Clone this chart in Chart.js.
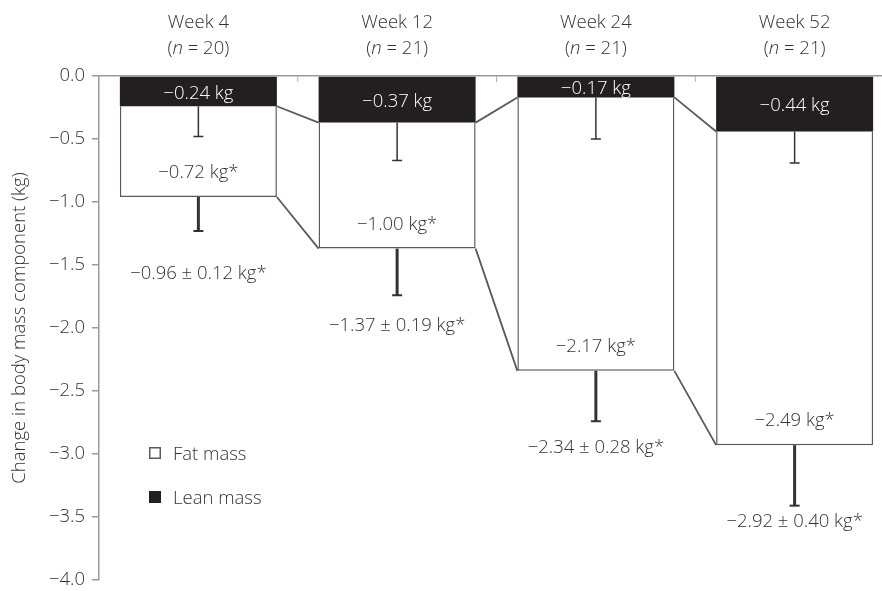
<!DOCTYPE html>
<html>
<head>
<meta charset="utf-8">
<title>Change in body mass components</title>
<script src="https://cdn.jsdelivr.net/npm/chart.js@4.4.1/dist/chart.umd.min.js"></script>
<style>
  html, body { margin: 0; padding: 0; background: #fff; overflow: hidden; }
  #wrap { position: relative; width: 894px; height: 591px; }
</style>
</head>
<body>
<div id="wrap"><canvas id="chart"></canvas></div>
<script>
// Visits and group sizes
const weeks = ['Week 4', 'Week 12', 'Week 24', 'Week 52'];
const sampleSizes = [20, 21, 21, 21];

// Mean change per component (kg)
const leanMass = [-0.24, -0.37, -0.17, -0.44];
const fatMass = [-0.72, -1.00, -2.17, -2.49];

// Total change (kg) with its standard error
const totalMass = [-0.96, -1.37, -2.34, -2.92];
const totalSE = [0.12, 0.19, 0.28, 0.40];

// Error-bar lengths (kg), drawn downward from each bar end
const leanErr = [0.24, 0.30, 0.33, 0.25];
const totalErr = [0.27, 0.37, 0.40, 0.49];

// Value axis
const yMin = -4.0;
const yMax = 0.0;
const yStep = 0.5;

const FONT = '"Open Sans", "Noto Sans", sans-serif';
const FONT_SIZE = 18.5;
const TEXT_DY = 2;          // nudge so glyphs sit visually centred on their anchor
const INK = '#333333';
const LEAN_FILL = '#231f20';
const EDGE = '#5a5a5a';
const AXIS = '#9a9a9a';

const fmt2 = v => (v < 0 ? '\u2212' : '') + Math.abs(v).toFixed(2);
const fmt1 = v => (Math.abs(v) < 1e-9 ? '0.0' : (v < 0 ? '\u2212' : '') + Math.abs(v).toFixed(1));

function font(style) {
  return (style || '') + ' 300 ' + FONT_SIZE + 'px ' + FONT;
}

// Connectors between neighbouring bars, error bars, value labels,
// two-line visit headers and the inset legend.
const decorations = {
  id: 'decorations',
  beforeDatasetsDraw(chart) {
    const { ctx } = chart;
    const lean = chart.getDatasetMeta(0).data;
    const fat = chart.getDatasetMeta(1).data;
    ctx.save();
    ctx.strokeStyle = EDGE;
    ctx.lineWidth = 1.8;
    for (let i = 0; i < lean.length - 1; i++) {
      const a = lean[i], b = lean[i + 1];
      const fa = fat[i], fb = fat[i + 1];
      ctx.beginPath();
      ctx.moveTo(a.x + a.width / 2, a.y);
      ctx.lineTo(b.x - b.width / 2, b.y);
      ctx.moveTo(fa.x + fa.width / 2, fa.y);
      ctx.lineTo(fb.x - fb.width / 2, fb.y);
      ctx.stroke();
    }
    ctx.restore();
  },
  afterDatasetsDraw(chart) {
    const { ctx, scales: { y } } = chart;
    const lean = chart.getDatasetMeta(0).data;
    const fat = chart.getDatasetMeta(1).data;
    ctx.save();
    ctx.strokeStyle = INK;
    ctx.lineCap = 'butt';
    lean.forEach((el, i) => {
      // lean-mass error bar (thin)
      const yl = y.getPixelForValue(leanMass[i] - leanErr[i]);
      ctx.lineWidth = 1.5;
      ctx.beginPath();
      ctx.moveTo(el.x, el.y);
      ctx.lineTo(el.x, yl);
      ctx.moveTo(el.x - 5, yl);
      ctx.lineTo(el.x + 5, yl);
      ctx.stroke();
      // total error bar (heavy)
      const f = fat[i];
      const yt = y.getPixelForValue(totalMass[i] - totalErr[i]);
      ctx.lineWidth = 3;
      ctx.beginPath();
      ctx.moveTo(f.x, f.y);
      ctx.lineTo(f.x, yt);
      ctx.stroke();
      ctx.lineWidth = 2;
      ctx.beginPath();
      ctx.moveTo(f.x - 5, yt);
      ctx.lineTo(f.x + 5, yt);
      ctx.stroke();
    });

    ctx.font = font();
    ctx.textAlign = 'center';
    ctx.textBaseline = 'middle';
    lean.forEach((el, i) => {
      ctx.fillStyle = '#ffffff';
      ctx.fillText(fmt2(leanMass[i]) + ' kg', el.x, (el.y + el.base) / 2 + TEXT_DY);
      const f = fat[i];
      ctx.fillStyle = INK;
      ctx.fillText(fmt2(fatMass[i]) + ' kg*', f.x, f.y - 26 + TEXT_DY);
      ctx.fillText(fmt2(totalMass[i]) + ' \u00b1 ' + totalSE[i].toFixed(2) + ' kg*', f.x, f.y + 75 + TEXT_DY);
    });
    ctx.restore();
  },
  afterDraw(chart) {
    const { ctx, chartArea: ca, scales: { x } } = chart;
    ctx.save();
    // short inward ticks between visits
    ctx.strokeStyle = '#b0b0b0';
    ctx.lineWidth = 1;
    for (let i = 1; i < weeks.length; i++) {
      const bx = (x.getPixelForValue(i - 1) + x.getPixelForValue(i)) / 2;
      ctx.beginPath();
      ctx.moveTo(bx, ca.top);
      ctx.lineTo(bx, ca.top + 6);
      ctx.stroke();
    }
    // visit headers
    ctx.fillStyle = INK;
    ctx.textBaseline = 'middle';
    weeks.forEach((w, i) => {
      const cx = x.getPixelForValue(i);
      ctx.font = font();
      ctx.textAlign = 'center';
      ctx.fillText(w, cx, ca.top - 55 + TEXT_DY);
      const parts = [['(', ''], ['n', 'italic'], [' = ' + sampleSizes[i] + ')', '']];
      let total = 0;
      parts.forEach(p => { ctx.font = font(p[1]); total += ctx.measureText(p[0]).width; });
      let px = cx - total / 2;
      ctx.textAlign = 'left';
      parts.forEach(p => {
        ctx.font = font(p[1]);
        ctx.fillText(p[0], px, ca.top - 29 + TEXT_DY);
        px += ctx.measureText(p[0]).width;
      });
    });
    // legend
    const items = [
      { text: chart.data.datasets[1].label, fill: '#ffffff', stroke: EDGE },
      { text: chart.data.datasets[0].label, fill: LEAN_FILL, stroke: LEAN_FILL }
    ];
    const lx = ca.left + 50;
    items.forEach((it, k) => {
      const cy = ca.top + 377 + k * 44;
      ctx.fillStyle = it.fill;
      ctx.fillRect(lx, cy - 6, 12, 12);
      ctx.strokeStyle = it.stroke;
      ctx.lineWidth = 1.5;
      ctx.strokeRect(lx + 0.75, cy - 5.25, 10.5, 10.5);
      ctx.fillStyle = INK;
      ctx.font = font();
      ctx.textAlign = 'left';
      ctx.fillText(it.text, lx + 24, cy + TEXT_DY);
    });
    ctx.restore();
  }
};

new Chart(document.getElementById('chart'), {
  type: 'bar',
  data: {
    labels: weeks,
    datasets: [
      {
        label: 'Lean mass',
        data: leanMass,
        backgroundColor: LEAN_FILL,
        borderWidth: 0,
        stack: 'body'
      },
      {
        label: 'Fat mass',
        data: fatMass,
        backgroundColor: '#ffffff',
        borderColor: EDGE,
        borderWidth: 1.5,
        borderSkipped: 'start',
        stack: 'body'
      }
    ]
  },
  options: {
    responsive: true,
    maintainAspectRatio: false,
    animation: false,
    devicePixelRatio: 1,
    layout: { padding: { left: 0, right: 0, top: 0, bottom: 11 } },
    categoryPercentage: 1.0,
    barPercentage: 0.79,
    plugins: {
      legend: { display: false },
      tooltip: { enabled: false }
    },
    scales: {
      x: {
        position: 'top',
        stacked: true,
        afterFit(scale) { scale.height = 76; },
        ticks: { display: false },
        grid: { display: false },
        border: { display: true, color: AXIS, width: 1.5 }
      },
      y: {
        stacked: true,
        min: yMin,
        max: yMax,
        afterFit(scale) {
          scale.width = 99;
          scale.paddingTop = 0;
          scale.paddingBottom = 0;
        },
        ticks: {
          stepSize: yStep,
          color: INK,
          padding: 7,
          font: { family: FONT, size: FONT_SIZE, weight: 300 },
          callback: v => fmt1(v)
        },
        grid: { drawOnChartArea: false, tickLength: 7, color: AXIS, lineWidth: 1.5 },
        border: { display: true, color: AXIS, width: 1.5 },
        title: {
          display: true,
          text: 'Change in body mass component (kg)',
          color: INK,
          font: { family: FONT, size: FONT_SIZE, weight: 300 },
          padding: { top: 9, bottom: 0 }
        }
      }
    }
  },
  plugins: [decorations]
});
</script>
</body>
</html>
